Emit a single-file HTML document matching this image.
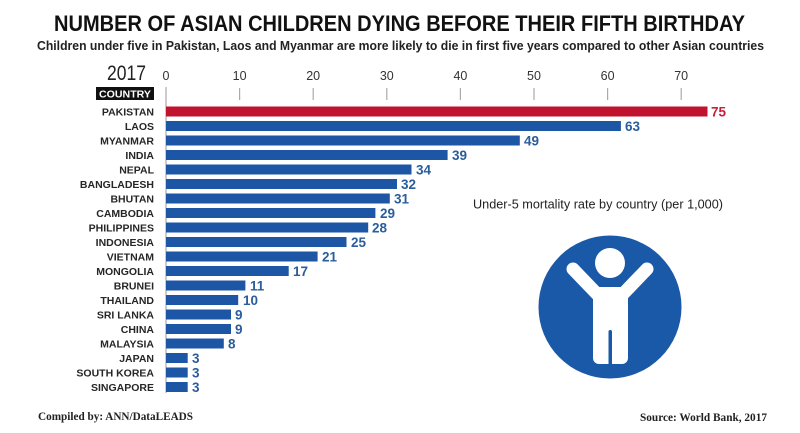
<!DOCTYPE html>
<html><head><meta charset="utf-8"><style>
html,body{margin:0;padding:0;background:#fff;}
svg{display:block;}
text{font-family:"Liberation Sans",sans-serif;}
.c{font-size:10.5px;font-weight:bold;fill:#262626;text-anchor:end;}
.v{font-size:13.5px;font-weight:bold;fill:#2a5d9c;}
.t{font-size:12.5px;fill:#333;text-anchor:middle;}
</style></head><body>
<svg width="800" height="433" viewBox="0 0 800 433" xmlns="http://www.w3.org/2000/svg">
<rect width="800" height="433" fill="#fff"/>
<text x="54" y="31" font-size="22" font-weight="bold" fill="#111" textLength="691" lengthAdjust="spacingAndGlyphs">NUMBER OF ASIAN CHILDREN DYING BEFORE THEIR FIFTH BIRTHDAY</text>
<text x="37" y="50" font-size="13" font-weight="bold" fill="#222" textLength="727" lengthAdjust="spacingAndGlyphs">Children under five in Pakistan, Laos and Myanmar are more likely to die in first five years compared to other Asian countries</text>
<text x="107" y="80" font-size="21" fill="#222" textLength="39" lengthAdjust="spacingAndGlyphs">2017</text>
<rect x="96" y="87" width="58" height="13" fill="#111"/>
<text x="125" y="97.5" font-size="10.5" font-weight="bold" fill="#fff" text-anchor="middle" textLength="52" lengthAdjust="spacingAndGlyphs">COUNTRY</text>
<g stroke="#aaa" stroke-width="1.2">
<line x1="166" y1="87" x2="166" y2="393"/>
<line x1="239.6" y1="88" x2="239.6" y2="100"/>
<line x1="313.2" y1="88" x2="313.2" y2="100"/>
<line x1="386.8" y1="88" x2="386.8" y2="100"/>
<line x1="460.4" y1="88" x2="460.4" y2="100"/>
<line x1="534" y1="88" x2="534" y2="100"/>
<line x1="607.6" y1="88" x2="607.6" y2="100"/>
<line x1="681.2" y1="88" x2="681.2" y2="100"/>
</g>
<text class="t" x="166" y="80">0</text>
<text class="t" x="239.6" y="80">10</text>
<text class="t" x="313.2" y="80">20</text>
<text class="t" x="386.8" y="80">30</text>
<text class="t" x="460.4" y="80">40</text>
<text class="t" x="534" y="80">50</text>
<text class="t" x="607.6" y="80">60</text>
<text class="t" x="681.2" y="80">70</text>

<g id="bars"></g>
<!-- bars: y center = 111.5 + 14.5*i ; length = v*7.22 -->
<rect x="166" y="106.5" width="541.5" height="10" fill="#c1132e"/>
<text class="c" x="154" y="115.5">PAKISTAN</text><text class="v" x="711" y="116.5" style="fill:#c4213a">75</text>

<rect x="166" y="121" width="454.9" height="10" fill="#1c56a5"/>
<text class="c" x="154" y="130">LAOS</text><text class="v" x="625" y="131">63</text>

<rect x="166" y="135.5" width="353.8" height="10" fill="#1c56a5"/>
<text class="c" x="154" y="144.5">MYANMAR</text><text class="v" x="524" y="145.5">49</text>

<rect x="166" y="150" width="281.6" height="10" fill="#1c56a5"/>
<text class="c" x="154" y="159">INDIA</text><text class="v" x="452" y="160">39</text>

<rect x="166" y="164.5" width="245.5" height="10" fill="#1c56a5"/>
<text class="c" x="154" y="173.5">NEPAL</text><text class="v" x="416" y="174.5">34</text>

<rect x="166" y="179" width="231" height="10" fill="#1c56a5"/>
<text class="c" x="154" y="188">BANGLADESH</text><text class="v" x="401" y="189">32</text>

<rect x="166" y="193.5" width="223.8" height="10" fill="#1c56a5"/>
<text class="c" x="154" y="202.5">BHUTAN</text><text class="v" x="394" y="203.5">31</text>

<rect x="166" y="208" width="209.4" height="10" fill="#1c56a5"/>
<text class="c" x="154" y="217">CAMBODIA</text><text class="v" x="380" y="218">29</text>

<rect x="166" y="222.5" width="202.2" height="10" fill="#1c56a5"/>
<text class="c" x="154" y="231.5">PHILIPPINES</text><text class="v" x="372" y="232.5">28</text>

<rect x="166" y="237" width="180.5" height="10" fill="#1c56a5"/>
<text class="c" x="154" y="246">INDONESIA</text><text class="v" x="351" y="247">25</text>

<rect x="166" y="251.5" width="151.6" height="10" fill="#1c56a5"/>
<text class="c" x="154" y="260.5">VIETNAM</text><text class="v" x="322" y="261.5">21</text>

<rect x="166" y="266" width="122.7" height="10" fill="#1c56a5"/>
<text class="c" x="154" y="275">MONGOLIA</text><text class="v" x="293" y="276">17</text>

<rect x="166" y="280.5" width="79.4" height="10" fill="#1c56a5"/>
<text class="c" x="154" y="289.5">BRUNEI</text><text class="v" x="250" y="290.5">11</text>

<rect x="166" y="295" width="72.2" height="10" fill="#1c56a5"/>
<text class="c" x="154" y="304">THAILAND</text><text class="v" x="243" y="305">10</text>

<rect x="166" y="309.5" width="65" height="10" fill="#1c56a5"/>
<text class="c" x="154" y="318.5">SRI LANKA</text><text class="v" x="235" y="319.5">9</text>

<rect x="166" y="324" width="65" height="10" fill="#1c56a5"/>
<text class="c" x="154" y="333">CHINA</text><text class="v" x="235" y="334">9</text>

<rect x="166" y="338.5" width="57.8" height="10" fill="#1c56a5"/>
<text class="c" x="154" y="347.5">MALAYSIA</text><text class="v" x="228" y="348.5">8</text>

<rect x="166" y="353" width="21.7" height="10" fill="#1c56a5"/>
<text class="c" x="154" y="362">JAPAN</text><text class="v" x="192" y="363">3</text>

<rect x="166" y="367.5" width="21.7" height="10" fill="#1c56a5"/>
<text class="c" x="154" y="376.5">SOUTH KOREA</text><text class="v" x="192" y="377.5">3</text>

<rect x="166" y="382" width="21.7" height="10" fill="#1c56a5"/>
<text class="c" x="154" y="391">SINGAPORE</text><text class="v" x="192" y="392">3</text>

<text x="473" y="208.5" font-size="12.5" fill="#222" textLength="250" lengthAdjust="spacingAndGlyphs">Under-5 mortality rate by country (per 1,000)</text>

<!-- icon -->
<circle cx="610" cy="307" r="71.5" fill="#1a58a8"/>
<circle cx="610" cy="263" r="15" fill="#fff"/>
<g stroke="#fff" stroke-width="13" stroke-linecap="round">
<line x1="573" y1="269" x2="598" y2="295"/>
<line x1="647" y1="269" x2="622" y2="295"/>
</g>
<rect x="593" y="287" width="35" height="77" rx="6" fill="#fff"/>
<rect x="608.5" y="330" width="3.5" height="40" rx="1.7" fill="#1a58a8"/>

<text x="38" y="420" font-family="Liberation Serif, serif" font-size="11.5" font-weight="bold" fill="#222" textLength="155" lengthAdjust="spacingAndGlyphs" style="font-family:'Liberation Serif',serif">Compiled by: ANN/DataLEADS</text>
<text x="640" y="421" font-size="11.5" font-weight="bold" fill="#222" textLength="127" lengthAdjust="spacingAndGlyphs" style="font-family:'Liberation Serif',serif">Source: World Bank, 2017</text>
</svg>
</body></html>
